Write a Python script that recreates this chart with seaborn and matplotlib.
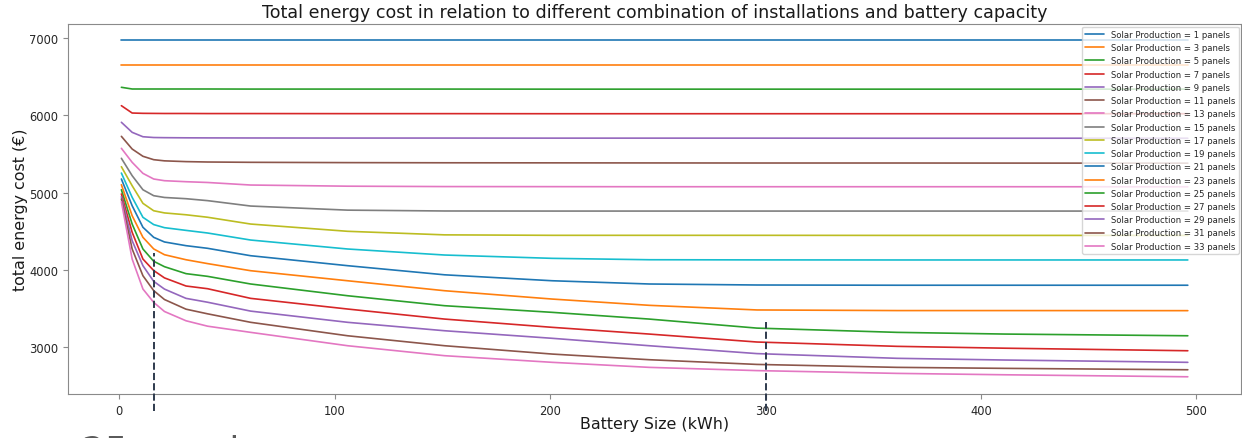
import numpy as np
import pandas as pd
import matplotlib
matplotlib.use("Agg")
import matplotlib.pyplot as plt
import seaborn as sns

# Battery sizes (kWh) at which the total cost was evaluated
battery_kwh = [1, 6, 11, 16, 21, 31, 41, 61, 106, 151, 201, 246, 296, 361, 411, 496]

# Number of solar panels installed
panels = [1, 3, 5, 7, 9, 11, 13, 15, 17, 19, 21, 23, 25, 27, 29, 31, 33]

# Total energy cost (EUR) per installation, one list per panel count
cost_1 = [6972, 6972, 6972, 6972, 6972, 6972, 6972, 6972, 6972, 6972, 6972, 6972, 6972, 6972, 6972, 6972]
cost_3 = [6655, 6655, 6655, 6655, 6655, 6655, 6655, 6655, 6655, 6655, 6655, 6655, 6655, 6655, 6655, 6655]
cost_5 = [6362, 6340, 6340, 6340, 6340, 6340, 6340, 6339, 6339, 6339, 6338, 6338, 6338, 6338, 6338, 6338]
cost_7 = [6124, 6029, 6025, 6024, 6023, 6023, 6022, 6022, 6021, 6021, 6020, 6020, 6020, 6020, 6020, 6020]
cost_9 = [5909, 5779, 5722, 5712, 5710, 5708, 5707, 5706, 5705, 5705, 5704, 5704, 5704, 5703, 5703, 5703]
cost_11 = [5727, 5563, 5469, 5425, 5410, 5400, 5395, 5391, 5387, 5385, 5384, 5383, 5382, 5382, 5381, 5380]
cost_13 = [5572, 5391, 5248, 5175, 5153, 5140, 5130, 5097, 5082, 5077, 5076, 5075, 5075, 5075, 5075, 5074]
cost_15 = [5443, 5218, 5036, 4959, 4936, 4920, 4895, 4825, 4772, 4761, 4760, 4760, 4760, 4760, 4760, 4760]
cost_17 = [5334, 5088, 4860, 4764, 4736, 4712, 4680, 4592, 4498, 4452, 4446, 4446, 4446, 4445, 4445, 4445]
cost_19 = [5252, 4938, 4679, 4585, 4545, 4510, 4476, 4385, 4269, 4191, 4148, 4130, 4128, 4127, 4127, 4127]
cost_21 = [5175, 4829, 4550, 4420, 4360, 4312, 4278, 4182, 4053, 3935, 3858, 3816, 3803, 3800, 3800, 3800]
cost_23 = [5101, 4700, 4420, 4270, 4195, 4130, 4080, 3988, 3858, 3729, 3621, 3540, 3480, 3472, 3472, 3471]
cost_25 = [5036, 4592, 4269, 4110, 4040, 3950, 3915, 3816, 3664, 3535, 3449, 3362, 3245, 3190, 3168, 3146]
cost_27 = [4981, 4485, 4139, 3990, 3895, 3790, 3755, 3630, 3492, 3362, 3255, 3168, 3065, 3009, 2985, 2952]
cost_29 = [4946, 4376, 4053, 3850, 3750, 3630, 3580, 3465, 3320, 3211, 3113, 3017, 2915, 2854, 2832, 2802]
cost_31 = [4916, 4269, 3923, 3730, 3615, 3490, 3430, 3320, 3146, 3017, 2909, 2836, 2775, 2737, 2724, 2706]
cost_33 = [4881, 4139, 3751, 3578, 3460, 3340, 3270, 3190, 3017, 2888, 2802, 2737, 2695, 2659, 2641, 2615]

costs = [cost_1, cost_3, cost_5, cost_7, cost_9, cost_11, cost_13, cost_15, cost_17,
         cost_19, cost_21, cost_23, cost_25, cost_27, cost_29, cost_31, cost_33]

# Marker lines: (battery size, top of the dashed line)
marker_x = [16, 300]
marker_top = [4215, 3324]

labels = [f"Solar Production = {n} panels" for n in panels]
frames = []
for lab, vals in zip(labels, costs):
    frames.append(pd.DataFrame({"battery": battery_kwh, "cost": vals, "series": lab}))
df = pd.concat(frames, ignore_index=True)

sns.set_style("white")
plt.rcParams["axes.edgecolor"] = "#8a8a8a"
plt.rcParams["xtick.color"] = "#8a8a8a"
plt.rcParams["ytick.color"] = "#8a8a8a"
plt.rcParams["xtick.labelcolor"] = "#262626"
plt.rcParams["ytick.labelcolor"] = "#262626"
plt.rcParams["xtick.bottom"] = True
plt.rcParams["ytick.left"] = True
plt.rcParams["font.family"] = ["DejaVu Sans"]

fig = plt.figure(figsize=(12.42, 4.39), dpi=100)
ax = fig.add_axes([0.0548, 0.1002, 0.9445, 0.8428])

palette = sns.color_palette("tab10", len(panels))
sns.lineplot(data=df, x="battery", y="cost", hue="series", hue_order=labels,
             palette=palette, linewidth=1.2, ax=ax)

y_bottom = 2171
for mx, mt in zip(marker_x, marker_top):
    ax.plot([mx, mx], [y_bottom, mt], linestyle="--", color="#2e3a4d",
            linewidth=1.4, clip_on=False, zorder=5)

ax.set_xlim(-23.75, 520.75)
ax.set_ylim(2392, 7181)
ax.set_xticks([0, 100, 200, 300, 400, 500])
ax.set_yticks([3000, 4000, 5000, 6000, 7000])
ax.tick_params(labelsize=8.3)

ax.set_title("Total energy cost in relation to different combination of installations and battery capacity",
             fontsize=12.6, color="#1a1a1a", pad=5)
ax.set_xlabel("Battery Size (kWh)", fontsize=11.4, color="#1a1a1a", labelpad=-0.5)
ax.set_ylabel("total energy cost (€)", fontsize=11.4, color="#1a1a1a", labelpad=1)

ax.legend(loc="upper right", fontsize=6.1, borderaxespad=0.3, handlelength=2.2,
          labelspacing=0.5)

fig.text(0.066, 0.009, "25 panels", fontsize=26, color="#5a5a5a", va="top", ha="left")

fig.savefig("out.png", dpi=100)
